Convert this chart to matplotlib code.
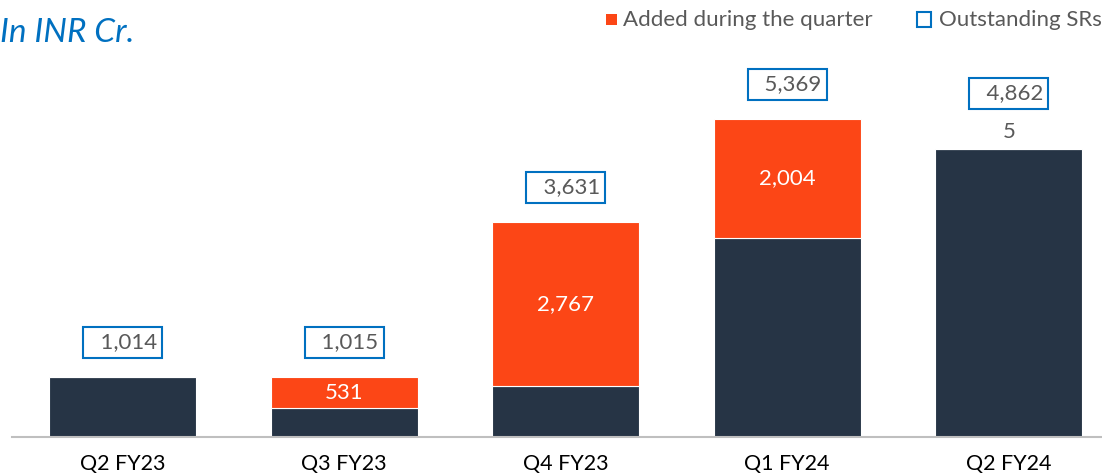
import matplotlib
matplotlib.use("Agg")
from matplotlib import pyplot as plt
from matplotlib.patches import Rectangle

plt.rcParams['font.family'] = ['Lato', 'DejaVu Sans']

quarters = ["Q2 FY23", "Q3 FY23", "Q4 FY23", "Q1 FY24", "Q2 FY24"]
outstanding = [1014, 1015, 3631, 5369, 4862]
added = [0, 531, 2767, 2004, 5]
carried = [o - a for o, a in zip(outstanding, added)]

dark = '#263445'
orange = '#FC4616'
blue = '#0070C0'
grey = '#595959'

W, H = 1102, 476
fig = plt.figure(figsize=(W/100, H/100), dpi=100)
ax = fig.add_axes([12/W, 39/H, 1107.5/W, 437/H])

x = range(len(quarters))
ax.bar(x, carried, width=0.665, color=dark, edgecolor='white', linewidth=0.8)
ax.bar(x, added, bottom=carried, width=0.665, color=orange, edgecolor='white', linewidth=0.8)

for i in x:
	box_off = 25
	# value of additions, inside the orange block or just above a thin one
	if added[i] > 300:
		ax.text(i, carried[i] + added[i]/2, f"{added[i]:,}", ha='center', va='center',
				color='white', fontsize=16)
	elif added[i] > 0:
		ax.annotate(f"{added[i]:,}", (i, outstanding[i]), xytext=(0, 12),
					textcoords='offset points', ha='center', va='center',
					color=grey, fontsize=16)
		box_off = 40
	ax.annotate(f"  {outstanding[i]:,}", (i, outstanding[i]), xytext=(0, box_off),
				textcoords='offset points', ha='center', va='center', color=grey,
				fontsize=16,
				bbox=dict(boxstyle='square,pad=0.24', fc='white', ec=blue, lw=1.5))

ax.set_xlim(-0.5, 4.5)
ax.set_ylim(0, 7380)
ax.set_xticks(list(x))
ax.set_xticklabels(quarters, fontsize=15.5, color='black')
ax.tick_params(axis='x', length=0, pad=12)
ax.set_yticks([])
for s in ['top', 'left', 'right']:
	ax.spines[s].set_visible(False)
ax.spines['bottom'].set_color('#BFBFBF')
ax.spines['bottom'].set_linewidth(1.5)

fig.text(0.0, 1 - 33/H, "In INR Cr.", fontsize=24, style='italic', color=blue,
		 ha='left', va='center')

# legend keys drawn by hand: filled orange square, hollow blue square
fig.add_artist(Rectangle((606/W, 1 - 25/H), 11/W, 11/H, transform=fig.transFigure,
						 facecolor=orange, edgecolor='none'))
fig.add_artist(Rectangle((916.5/W, 1 - 26.5/H), 14/W, 14/H, transform=fig.transFigure,
						 facecolor='white', edgecolor=blue, linewidth=1.5))
fig.text(623/W, 1 - 19.5/H, "Added during the quarter", fontsize=16, color=grey,
		 ha='left', va='center')
fig.text(939/W, 1 - 19.5/H, "Outstanding SRs", fontsize=16, color=grey,
		 ha='left', va='center')

fig.savefig("out.png", dpi=100)
